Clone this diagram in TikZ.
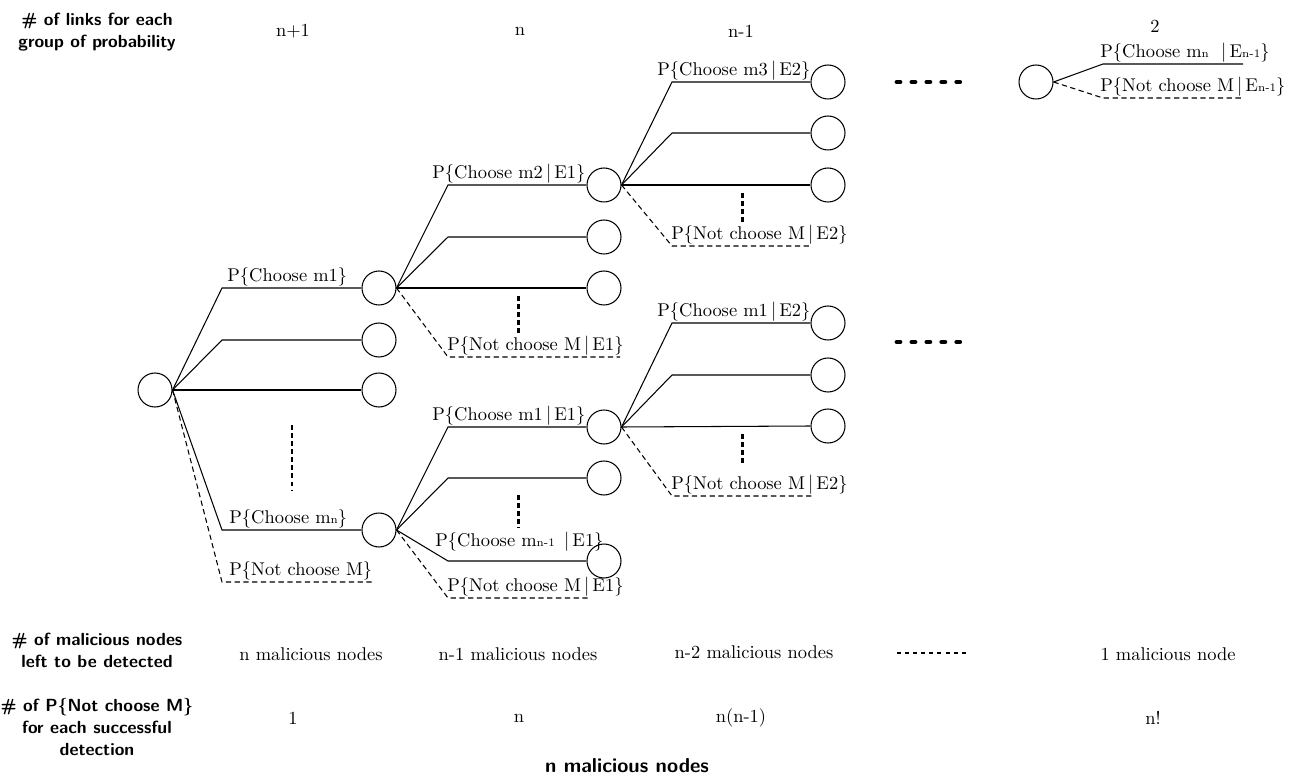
\documentclass[tikz,border=0pt]{standalone}
\usepackage{amsmath}
\usetikzlibrary{positioning}
\tikzset{
  state/.style={circle,draw,minimum size=0.68cm,inner sep=0pt,line width=0.6pt},
  prob/.style={anchor=south west,inner sep=0.6pt,font=\fontsize{10.5}{12}\selectfont},
  branch/.style={line width=0.6pt},
  nobranch/.style={line width=0.6pt,dash pattern=on 3pt off 2pt},
  vdots/.style={line width=1.7pt,dash pattern=on 2.6pt off 2pt},
  hdash/.style={line width=2.8pt,line cap=round,dash pattern=on 1.7pt off 6.8pt},
  hdots/.style={line width=1.7pt,dash pattern=on 2.3pt off 2.3pt},
  rowhead/.style={font=\sffamily\bfseries\fontsize{10}{12.5}\selectfont,align=center},
  rowval/.style={font=\fontsize{10.5}{12}\selectfont}
}
\newcommand{\lsub}[1]{{\fontsize{6.5}{7}\selectfont #1}}

\begin{document}
\begin{tikzpicture}[x=0.02cm,y=-0.02cm]
  \useasboundingbox (0,0) rectangle (1294,780);
  % states of the tree
  \node[state] (root) at (155,390) {};
  \node[state] (s1) at (379,288) {}; \node[state] (s2) at (379,340) {};
  \node[state] (s3) at (379,390) {}; \node[state] (sn) at (379,530) {};
  \node[state] (t1) at (604,185) {}; \node[state] (t2) at (604,237) {};
  \node[state] (t3) at (604,288) {};
  \node[state] (u1) at (604,427) {}; \node[state] (u2) at (604,478) {};
  \node[state] (u3) at (604,561) {};
  \node[state] (v1) at (828,82) {}; \node[state] (v2) at (828,133) {};
  \node[state] (v3) at (828,185) {};
  \node[state] (w1) at (828,323) {}; \node[state] (w2) at (828,375) {};
  \node[state] (w3) at (828,426) {};
  \node[state] (last) at (1036,82) {};
  % free ends of the dashed links
  \coordinate (rx) at (372,582); \coordinate (sx) at (620,357);
  \coordinate (nx) at (590,598); \coordinate (tx) at (812,246);
  \coordinate (ux) at (812,496);
  \coordinate (lc) at (1243,64); \coordinate (lx) at (1243,98);

  % links from the root
  \foreach \t/\y in {s1/288,s2/340,sn/530}
    \draw[branch] (root.east) -- (222,\y) -- (\t.west);
  \draw[branch] (root.east) -- (s3.west);
  \draw[nobranch] (root.east) -- (222,582) -- (rx);
  % links from s1
  \foreach \t/\y in {t1/185,t2/237}
    \draw[branch] (s1.east) -- (448,\y) -- (\t.west);
  \draw[branch] (s1.east) -- (t3.west);
  \draw[nobranch] (s1.east) -- (448,357) -- (sx);
  % links from sn
  \foreach \t/\y in {u1/427,u2/478,u3/561}
    \draw[branch] (sn.east) -- (448,\y) -- (\t.west);
  \draw[nobranch] (sn.east) -- (448,598) -- (nx);
  % links from t1
  \foreach \t/\y in {v1/82,v2/133}
    \draw[branch] (t1.east) -- (672,\y) -- (\t.west);
  \draw[branch] (t1.east) -- (v3.west);
  \draw[nobranch] (t1.east) -- (672,246) -- (tx);
  % links from u1
  \foreach \t/\y in {w1/323,w2/375}
    \draw[branch] (u1.east) -- (672,\y) -- (\t.west);
  \draw[branch] (u1.east) -- (w3.west);
  \draw[nobranch] (u1.east) -- (672,496) -- (ux);
  % links from the last state
  \draw[branch] (last.east) -- (1103,64) -- (lc);
  \draw[nobranch] (last.east) -- (1103,98) -- (lx);

  % probabilities
  \node[prob] (p1) at (226,288) {P\{Choose m1\}};
  \node[prob] (pn) at (228,530) {P\{Choose m\lsub{n}\}};
  \node[prob] (px) at (228,582) {P\{Not choose M\}};
  \node[prob] (p21) at (431,185) {P\{Choose m2\,$|$\,E1\}};
  \node[prob] (p2x) at (446,357) {P\{Not choose M\,$|$\,E1\}};
  \node[prob] (p31) at (431,427) {P\{Choose m1\,$|$\,E1\}};
  \node[prob] (p3n) at (434,553) {P\{Choose m\lsub{n-1} \,$|$\,E1\}};
  \node[prob] (p3x) at (446,598) {P\{Not choose M\,$|$\,E1\}};
  \node[prob] (p41) at (656,82) {P\{Choose m3\,$|$\,E2\}};
  \node[prob] (p4x) at (670,246) {P\{Not choose M\,$|$\,E2\}};
  \node[prob] (p51) at (656,323) {P\{Choose m1\,$|$\,E2\}};
  \node[prob] (p5x) at (670,496) {P\{Not choose M\,$|$\,E2\}};
  \node[prob] (p61) at (1099,64) {P\{Choose m\lsub{n}\, \,$|$\,E\lsub{n-1}\}};
  \node[prob] (p6x) at (1099,98) {P\{Not choose M\,$|$\,E\lsub{n-1}\}};

  % omitted branches
  \draw[vdots] (292,425) -- (292,490);
  \draw[vdots] (518,296) -- (518,334);
  \draw[vdots] (518,495) -- (518,528);
  \draw[vdots] (742,193) -- (742,223);
  \draw[vdots] (742,434) -- (742,465);
  \draw[hdash] (897,82) -- (968,82);
  \draw[hdash] (897,342) -- (968,342);
  \draw[hdots] (897,653) -- (968,653);

  % rows of the table
  \node[rowhead] (hlinks) at (97,32) {\# of links for each\\group of probability};
  \node[rowval] (l1) at (293,31) {n+1};
  \node[rowval] (l2) at (520,31) {n};
  \node[rowval] (l3) at (741,31) {n-1};
  \node[rowval] (l4) at (1155,26) {2};
  \node[rowhead] (hleft) at (97,650) {\# of malicious nodes\\left to be detected};
  \node[rowval] (m1) at (311,654) {n malicious nodes};
  \node[rowval] (m2) at (518,654) {n-1 malicious nodes};
  \node[rowval] (m3) at (754,652) {n-2 malicious nodes};
  \node[rowval] (m4) at (1168,654) {1 malicious node};
  \node[rowhead] (hnot) at (97,727) {\# of P\{Not choose M\}\\for each successful\\detection};
  \node[rowval] (k1) at (293,718) {1};
  \node[rowval] (k2) at (519,718) {n};
  \node[rowval] (k3) at (741,718) {n(n-1)};
  \node[rowval] (k4) at (1153,718) {n!};
  \node[rowhead,font=\sffamily\bfseries\fontsize{11.5}{13}\selectfont] (total) at (627,766) {n malicious nodes};
\end{tikzpicture}
\end{document}
